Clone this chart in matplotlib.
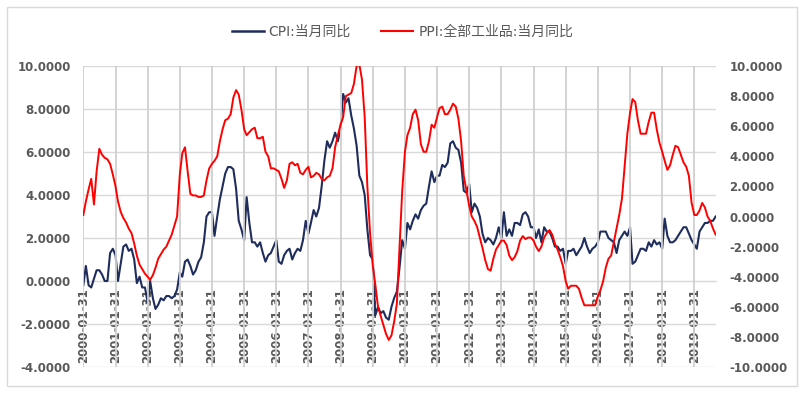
import matplotlib
matplotlib.use('Agg')
import matplotlib.pyplot as plt
from matplotlib.lines import Line2D
from matplotlib.patches import Rectangle
import numpy as np
import pandas as pd

plt.rcParams['font.family'] = ['DejaVu Sans', 'Noto Sans CJK SC']

# monthly, 2000-01 .. 2019-09
cpi = [
    -0.2, 0.7, -0.2, -0.3, 0.1, 0.5, 0.5, 0.3, 0.0, 0.0, 1.3, 1.5,
    1.2, 0.0, 0.8, 1.6, 1.7, 1.4, 1.5, 1.0, -0.1, 0.2, -0.3, -0.3,
    -1.0, 0.0, -0.8, -1.3, -1.1, -0.8, -0.9, -0.7, -0.7, -0.8, -0.7, -0.4,
    0.4, 0.2, 0.9, 1.0, 0.7, 0.3, 0.5, 0.9, 1.1, 1.8, 3.0, 3.2,
    3.2, 2.1, 3.0, 3.8, 4.4, 5.0, 5.3, 5.3, 5.2, 4.3, 2.8, 2.4,
    1.9, 3.9, 2.7, 1.8, 1.8, 1.6, 1.8, 1.3, 0.9, 1.2, 1.3, 1.6,
    1.9, 0.9, 0.8, 1.2, 1.4, 1.5, 1.0, 1.3, 1.5, 1.4, 1.9, 2.8,
    2.2, 2.7, 3.3, 3.0, 3.4, 4.4, 5.6, 6.5, 6.2, 6.5, 6.9, 6.5,
    7.1, 8.7, 8.3, 8.5, 7.7, 7.1, 6.3, 4.9, 4.6, 4.0, 2.4, 1.2,
    1.0, -1.6, -1.2, -1.5, -1.4, -1.7, -1.8, -1.2, -0.8, -0.5, 0.6, 1.9,
    1.5, 2.7, 2.4, 2.8, 3.1, 2.9, 3.3, 3.5, 3.6, 4.4, 5.1, 4.6,
    4.9, 4.9, 5.4, 5.3, 5.5, 6.4, 6.5, 6.2, 6.1, 5.5, 4.2, 4.1,
    4.5, 3.2, 3.6, 3.4, 3.0, 2.2, 1.8, 2.0, 1.9, 1.7, 2.0, 2.5,
    2.0, 3.2, 2.1, 2.4, 2.1, 2.7, 2.7, 2.6, 3.1, 3.2, 3.0, 2.5,
    2.5, 2.0, 2.4, 1.8, 2.5, 2.3, 2.3, 2.0, 1.6, 1.6, 1.4, 1.5,
    0.8, 1.4, 1.4, 1.5, 1.2, 1.4, 1.6, 2.0, 1.6, 1.3, 1.5, 1.6,
    1.8, 2.3, 2.3, 2.3, 2.0, 1.9, 1.8, 1.3, 1.9, 2.1, 2.3, 2.1,
    2.5, 0.8, 0.9, 1.2, 1.5, 1.5, 1.4, 1.8, 1.6, 1.9, 1.7, 1.8,
    1.5, 2.9, 2.1, 1.8, 1.8, 1.9, 2.1, 2.3, 2.5, 2.5, 2.2, 1.9,
    1.7, 1.5, 2.3, 2.5, 2.7, 2.7, 2.8, 2.8, 3.0,
]

ppi = [
    0.1, 1.0, 1.8, 2.5, 0.8, 3.0, 4.5, 4.1, 3.9, 3.8, 3.5, 2.8,
    2.0, 1.0, 0.3, -0.1, -0.4, -0.8, -1.1, -1.8, -2.6, -3.2, -3.5, -3.8,
    -4.0, -4.2, -3.9, -3.4, -2.8, -2.5, -2.2, -2.0, -1.6, -1.2, -0.6, 0.0,
    2.8, 4.2, 4.6, 3.0, 1.5, 1.4, 1.4, 1.3, 1.3, 1.4, 2.4, 3.2,
    3.5, 3.7, 4.0, 5.0, 5.8, 6.4, 6.5, 6.8, 7.9, 8.4, 8.1, 7.1,
    5.8, 5.4, 5.6, 5.8, 5.9, 5.2, 5.2, 5.3, 4.3, 4.0, 3.2, 3.2,
    3.1, 3.0, 2.5, 1.9, 2.4, 3.5, 3.6, 3.4, 3.5, 2.9, 2.8, 3.1,
    3.3, 2.6, 2.7, 2.9, 2.8, 2.5, 2.4, 2.6, 2.7, 3.2, 4.6, 5.4,
    6.1, 6.6, 8.0, 8.1, 8.2, 8.8, 10.0, 10.1, 9.1, 6.6, 2.0, -1.1,
    -3.3, -4.5, -6.0, -6.6, -7.2, -7.8, -8.2, -7.9, -7.0, -5.8, -2.1, 1.7,
    4.3, 5.4, 5.9, 6.8, 7.1, 6.4, 4.8, 4.3, 4.3, 5.0, 6.1, 5.9,
    6.6, 7.2, 7.3, 6.8, 6.8, 7.1, 7.5, 7.3, 6.5, 5.0, 2.7, 1.7,
    0.7, 0.0, -0.3, -0.7, -1.4, -2.1, -2.9, -3.5, -3.6, -2.8, -2.2, -1.9,
    -1.6, -1.6, -1.9, -2.6, -2.9, -2.7, -2.3, -1.6, -1.3, -1.5, -1.4, -1.4,
    -1.6, -2.0, -2.3, -2.0, -1.4, -1.1, -0.9, -1.2, -1.8, -2.2, -2.7, -3.3,
    -4.3, -4.8, -4.6, -4.6, -4.6, -4.8, -5.4, -5.9, -5.9, -5.9, -5.9, -5.9,
    -5.3, -4.9, -4.3, -3.4, -2.8, -2.6, -1.7, -0.8, 0.1, 1.2, 3.3, 5.5,
    6.9, 7.8, 7.6, 6.4, 5.5, 5.5, 5.5, 6.3, 6.9, 6.9, 5.8, 4.9,
    4.3, 3.7, 3.1, 3.4, 4.1, 4.7, 4.6, 4.1, 3.6, 3.3, 2.7, 0.9,
    0.1, 0.1, 0.4, 0.9, 0.6, 0.0, -0.3, -0.8, -1.2,
]

dates = pd.date_range('2000-01-31', periods=len(cpi), freq='ME')
tick_dates = dates[::12]
tick_labels = [d.strftime('%Y-%m-%d') for d in tick_dates]

label_cpi = 'CPI:当月同比'
label_ppi = 'PPI:全部工业品:当月同比'

grid_c = '#D9D9D9'
text_c = '#595959'
blue = '#1F2D5C'
red = '#FF0000'

fig = plt.figure(figsize=(8.05, 3.94), dpi=100)
ax = fig.add_axes([0.1035, 0.0685, 0.7855, 0.764])
ax2 = ax.twinx()

# x axis sits at the 0 line of the left axis
for s in ['top', 'left', 'right']:
    ax.spines[s].set_visible(False)
    ax2.spines[s].set_visible(False)
ax2.spines['bottom'].set_visible(False)
ax.spines['bottom'].set_position(('data', 0))
ax.spines['bottom'].set_color(grid_c)

ax.plot(dates, cpi, color=blue, lw=1.5, zorder=3)
ax2.plot(dates, ppi, color=red, lw=1.4, zorder=3)

ax.set_xlim(dates[0], dates[-1])
ax.set_ylim(-4, 10)
ax2.set_ylim(-10, 10)

# yearly vertical grid lines, drawn on the top axes under the red line
ax2.vlines(tick_dates, -10, 10, color='#D0D0D0', lw=1.3, zorder=0.5)

left_ticks = np.arange(-4, 10.1, 2)
right_ticks = np.arange(-10, 10.1, 2)
ax.set_yticks(left_ticks)
ax.set_yticklabels(['%.4f' % v for v in left_ticks], fontweight='bold')
ax2.set_yticks(right_ticks)
ax2.set_yticklabels(['%.4f' % v for v in right_ticks], fontweight='bold')
ax.set_xticks(tick_dates)
ax.set_xticklabels(tick_labels, rotation=90, fontweight='bold')

ax.tick_params(axis='x', length=0, pad=5, labelsize=8.5, labelcolor=text_c, labelrotation=90)
ax.tick_params(axis='y', length=0, pad=9, labelsize=8.5, labelcolor=text_c)
ax2.tick_params(axis='y', length=0, pad=10, labelsize=8.5, labelcolor=text_c)

ax.yaxis.grid(True, color=grid_c, lw=1)
ax.set_axisbelow(True)

handles = [Line2D([], [], color=blue, lw=1.8), Line2D([], [], color=red, lw=1.5)]
fig.legend(handles, [label_cpi, label_ppi], loc='center', bbox_to_anchor=(0.5, 0.919),
           ncol=2, frameon=False, fontsize=10, handlelength=2.3, handletextpad=0.35,
           columnspacing=2.2, labelcolor=text_c)

fig.patches.append(Rectangle((7 / 805, 8 / 394), 790 / 805, 379 / 394,
                             transform=fig.transFigure, fill=False,
                             edgecolor=grid_c, lw=1))

fig.savefig('out.png', dpi=100)
